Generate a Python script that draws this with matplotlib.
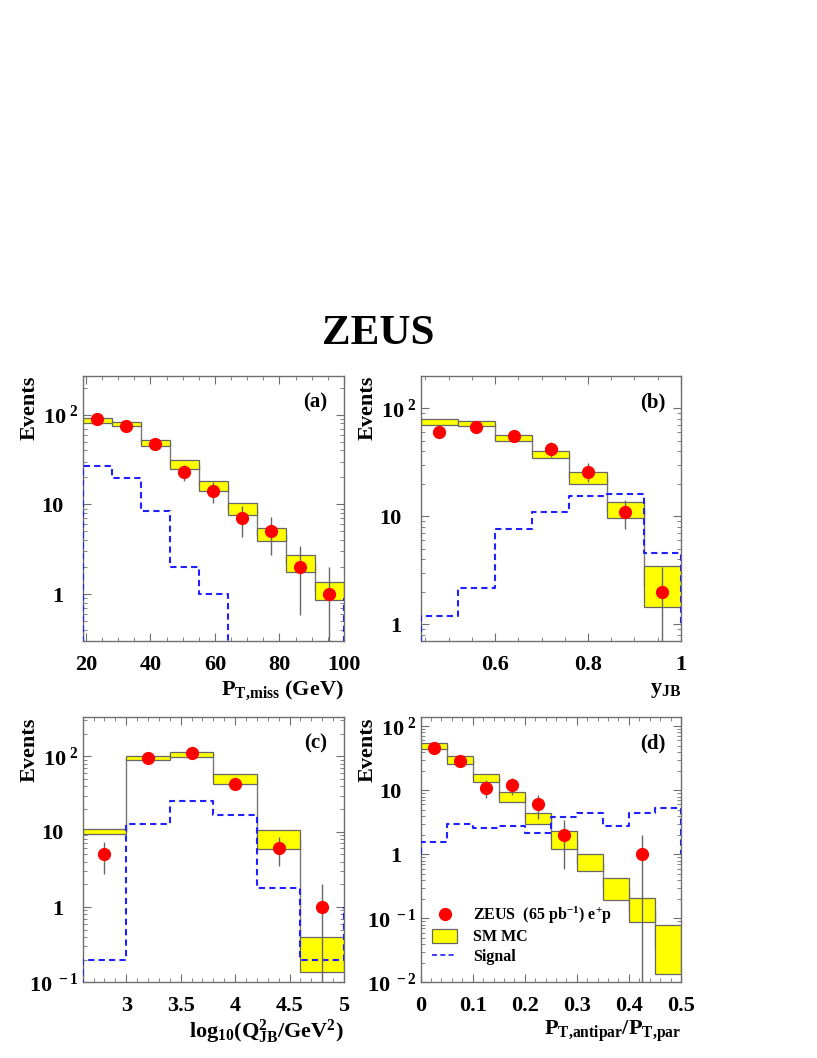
import numpy as np
import matplotlib
matplotlib.use("Agg")
import matplotlib.pyplot as plt
from matplotlib.patches import Patch
from matplotlib.lines import Line2D
from matplotlib.ticker import FixedLocator, FixedFormatter, MultipleLocator, LogLocator, NullFormatter

plt.rcParams['font.family'] = ['Liberation Serif', 'DejaVu Serif']
plt.rcParams['font.weight'] = 'bold'
plt.rcParams['mathtext.fontset'] = 'custom'
plt.rcParams['mathtext.rm'] = 'Liberation Serif:bold'
plt.rcParams['mathtext.it'] = 'Liberation Serif:bold'
plt.rcParams['mathtext.bf'] = 'Liberation Serif:bold'

# (a) missing transverse momentum
pt_edges = [19, 28, 37, 46, 55, 64, 73, 82, 91, 100]
pt_data = [90, 74, 47, 23, 14, 7, 5, 2, 1]
pt_mc_lo = [81, 75, 44.7, 25, 14.2, 7.6, 3.9, 1.75, 0.86]
pt_mc_hi = [92, 84, 52.6, 31, 18.2, 10.3, 5.4, 2.7, 1.36]
pt_sig = [27, 19.6, 8.4, 2.0, 1.0, 0, 0, 0, 0]
pt_sig_ends = [0, 0.9]

# (b) y_JB
y_edges = [0.44, 0.52, 0.60, 0.68, 0.76, 0.84, 0.92, 1.00]
y_data = [61, 68, 56, 42, 26, 11, 2]
y_mc_lo = [71, 68.5, 50.5, 34.8, 20.1, 9.7, 1.45]
y_mc_hi = [80, 76, 56.5, 40.7, 26, 13.6, 3.48]
y_sig = [1.19, 2.17, 7.6, 11.0, 15.3, 16.0, 4.6]
y_sig_ends = [0, 1.0]

# (c) log10(Q2)
q_edges = [2.6, 3.0, 3.4, 3.8, 4.2, 4.6, 5.0]
q_data = [5, 96, 111, 43, 6, 1]
q_mc_lo = [9.4, 90, 99, 43.4, 5.95, 0.139]
q_mc_hi = [10.7, 100, 116, 57.7, 10.5, 0.40]
q_sig = [0.2, 12.6, 25.5, 16.6, 1.79, 0.2]
q_sig_ends = [0, 1.0]

# (d) PT,antipar / PT,par
r_edges = [0.0, 0.05, 0.10, 0.15, 0.20, 0.25, 0.30, 0.35, 0.40, 0.45, 0.50]
r_data = [46, 29, 11, 12, 6, 2, 0, 0, 1, 0]
r_mc_lo = [44.8, 26.1, 13.5, 6.65, 2.98, 1.23, 0.54, 0.19, 0.089, 0.0137]
r_mc_hi = [55, 34, 18, 9.4, 4.48, 2.3, 1.0, 0.43, 0.21, 0.078]
r_sig = [1.56, 2.98, 2.58, 2.77, 2.15, 3.83, 4.43, 2.77, 4.43, 5.23]
r_sig_ends = [1.0, 1.0]

frame_col = '#6e6e6e'
tiny = 1e-6


def draw_panel(ax, edges, data, lo, hi, sig, sig_ends, ylim, xmaj, xmin, xlabels,
               ylocs, ylabels, letter, xtitle):
    edges = np.array(edges, dtype=float)
    centers = 0.5 * (edges[:-1] + edges[1:])
    widths = np.diff(edges)
    lo = np.array(lo)
    hi = np.array(hi)

    # MC central step, hidden by the boxes except in the gaps
    ax.stairs(np.sqrt(lo * hi), edges, color='#777777', lw=1.0, zorder=1, baseline=None)
    ax.bar(centers, hi - lo, width=widths, bottom=lo, color='#ffff00',
           edgecolor='#666666', linewidth=0.9, zorder=2)

    # signal, dashed blue step with closing lines
    s = np.where(np.array(sig) > 0, sig, tiny)
    xs = [edges[0]]
    ys = [max(sig_ends[0], tiny)]
    for i in range(len(s)):
        xs += [edges[i], edges[i + 1]]
        ys += [s[i], s[i]]
    xs.append(edges[-1])
    ys.append(max(sig_ends[1], tiny))
    ax.plot(xs, ys, color='#1f1fff', lw=1.5, ls=(0, (3, 2)), zorder=3)

    # data
    d = np.array(data, dtype=float)
    m = d > 0
    err = np.sqrt(d[m])
    low = np.minimum(err, d[m] - tiny)
    ax.errorbar(centers[m], d[m], yerr=[low, err], fmt='o', color='#ff0000',
                ms=8.5, ecolor='#666666', elinewidth=1.0, capsize=0, zorder=4)

    ax.set_yscale('log')
    ax.set_xlim(edges[0], edges[-1])
    ax.set_ylim(*ylim)

    ax.xaxis.set_major_locator(FixedLocator(xmaj))
    ax.xaxis.set_major_formatter(FixedFormatter(xlabels))
    ax.xaxis.set_minor_locator(MultipleLocator(xmin))
    ax.yaxis.set_major_locator(FixedLocator(ylocs))
    ax.yaxis.set_major_formatter(FixedFormatter(ylabels))
    ax.yaxis.set_minor_locator(LogLocator(base=10, subs=np.arange(2, 10)))
    ax.yaxis.set_minor_formatter(NullFormatter())

    ax.tick_params(which='both', direction='in', top=True, right=True, color=frame_col,
                   labelsize=16)
    ax.tick_params(which='major', length=6)
    ax.tick_params(which='minor', length=3)
    ax.tick_params(axis='x', which='major', pad=10)
    for t, lab in zip(ax.yaxis.get_major_ticks(), ylabels):
        t.set_pad(3 if '^' in lab else 14)
    for sp in ax.spines.values():
        sp.set_color(frame_col)
        sp.set_linewidth(1.0)

    ax.text(-0.202, 1.0, 'Events', rotation=90, ha='center', va='top',
            fontsize=16, transform=ax.transAxes)
    ax.text(0.89, 0.90, letter, ha='center', va='center', fontsize=15,
            transform=ax.transAxes)
    ax.text(1.0, -0.185, xtitle, ha='right', va='center', fontsize=16,
            transform=ax.transAxes)


fig = plt.figure(figsize=(8.17, 10.58), dpi=100)
ax_a = fig.add_axes([0.1012, 0.3941, 0.3198, 0.2505])
ax_b = fig.add_axes([0.5149, 0.3941, 0.3186, 0.2505])
ax_c = fig.add_axes([0.1012, 0.0715, 0.3198, 0.2505])
ax_d = fig.add_axes([0.5149, 0.0715, 0.3186, 0.2505])

lab_2 = r'$10^{\ 2}$'
lab_m1 = r'$10^{\ -1}$'
lab_m2 = r'$10^{\ -2}$'

draw_panel(ax_a, pt_edges, pt_data, pt_mc_lo, pt_mc_hi, pt_sig, pt_sig_ends,
           (0.3, 270), [20, 40, 60, 80, 100], 5, ['20', '40', '60', '80', '100'],
           [1, 10, 100], ['1', '10', lab_2], '(a)', r'P$_{\rm T{,}miss}$ (GeV)')
draw_panel(ax_b, y_edges, y_data, y_mc_lo, y_mc_hi, y_sig, y_sig_ends,
           (0.7, 200), [0.6, 0.8, 1.0], 0.05, ['0.6', '0.8', '1'],
           [1, 10, 100], ['1', '10', lab_2], '(b)', r'y$_{\rm JB}$')
draw_panel(ax_c, q_edges, q_data, q_mc_lo, q_mc_hi, q_sig, q_sig_ends,
           (0.1, 330), [3, 3.5, 4, 4.5, 5], 0.1, ['3', '3.5', '4', '4.5', '5'],
           [0.1, 1, 10, 100], [lab_m1, '1', '10', lab_2], '(c)',
           r'log$_{\rm 10}$(Q$^{\rm 2}_{\rm JB}$/GeV$^{\rm 2}$)')
draw_panel(ax_d, r_edges, r_data, r_mc_lo, r_mc_hi, r_sig, r_sig_ends,
           (0.01, 138), [0, 0.1, 0.2, 0.3, 0.4, 0.5], 0.02,
           ['0', '0.1', '0.2', '0.3', '0.4', '0.5'],
           [0.01, 0.1, 1, 10, 100], [lab_m2, lab_m1, '1', '10', lab_2], '(d)',
           r'P$_{\rm T{,}antipar}$/P$_{\rm T{,}par}$')

handles = [Line2D([], [], marker='o', ls='none', color='#ff0000', ms=8.5),
           Patch(facecolor='#ffff00', edgecolor='#666666', linewidth=0.9),
           Line2D([], [], color='#1f1fff', lw=1.2, ls=(0, (3, 2)))]
labels = [r'ZEUS  (65 pb$^{-1}$) e$^{+}$p', 'SM MC', 'Signal']
ax_d.legend(handles, labels, loc='upper left', bbox_to_anchor=(0.0, 0.335),
            frameon=False, fontsize=11.5, handlelength=1.6, handleheight=0.9,
            handletextpad=1.0, labelspacing=0.2, borderaxespad=0.3)

fig.text(0.4627, 0.684, 'ZEUS', ha='center', va='center', fontsize=31)

fig.savefig('out.png', dpi=100)
